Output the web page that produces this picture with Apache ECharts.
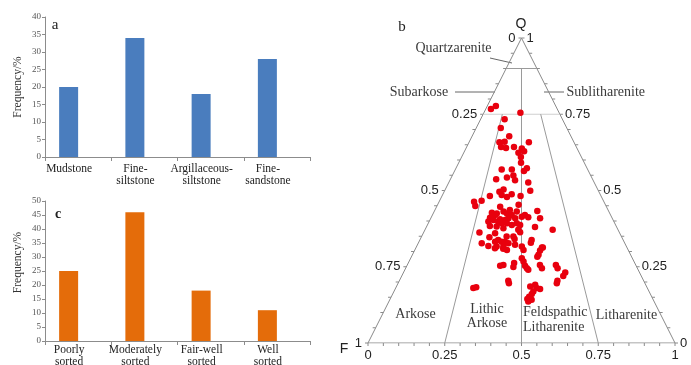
<!DOCTYPE html>
<html><head><meta charset="utf-8">
<script src="https://cdn.jsdelivr.net/npm/echarts@6/dist/echarts.min.js"></script>
<style>html,body{margin:0;padding:0;background:#fff}#c{width:691px;height:365px}</style>
</head><body><div id="c"></div>
<script>
// ---- data ----
const lithologyCats = ['Mudstone', 'Fine-\nsiltstone', 'Argillaceous-\nsiltstone', 'Fine-\nsandstone'];
const lithologyFreq = [20, 34, 18, 28];
const sortingCats = ['Poorly\nsorted', 'Moderately\nsorted', 'Fair-well\nsorted', 'Well\nsorted'];
const sortingFreq = [25, 46, 18, 11];
const ternLabelTicks = [0, 0.25, 0.5, 0.75, 1];
// sample compositions (%): Q = quartz, L = lithic fragments (F = 100 - Q - L)
const quartzPct = [76.7,77.7,75.5,73.4,70.5,67.8,65.8,66.0,64.3,63.9,64.3,65.8,63.8,62.4,62.9,61.0,59.1,57.3,56.4,56.9,56.9,54.9,54.3,53.4,53.7,52.6,49.6,50.3,48.5,48.8,47.9,48.2,49.9,48.2,46.3,44.9,46.6,
 42.7,42.0,42.5,44.7,43.1,42.5,43.6,42.0,43.1,45.3,40.9,41.4,42.0,41.2,40.3,39.8,39.3,40.3,40.9,38.4,38.2,37.6,38.7,39.3,38.7,36.0,40.6,39.3,43.3,40.9,38.0,37.1,36.2,34.7,32.7,31.8,33.2,33.8,33.2,33.2,32.7,31.6,31.6,30.5,32.2,31.6,30.5,33.8,32.9,31.3,30.3,28.9,28.3,27.8,26.7,25.3,25.6,26.2,24.9,25.3,24.5,24.0,25.6,24.5,25.6,24.5,23.1,22.0,20.4,19.6,20.4,19.6,18.0,18.3,18.5,19.1,18.0,17.7,16.9,16.1,15.2,14.4,14.2,13.6,37.1,34.9,34.1,31.3,
 39.8,41.1,30.9,31.1,34.9,36.3];
const lithicPct = [1.7,2.8,11.9,7.8,8.0,12.1,9.9,11.5,11.2,13.0,15.4,19.5,18.2,17.8,19.4,19.3,20.3,23.1,22.6,15.1,18.4,19.9,18.1,21.2,14.9,25.9,18.0,19.0,19.3,22.4,21.3,15.6,27.9,25.6,11.4,12.5,13.7,
 19.0,20.4,20.7,20.7,22.6,24.0,24.4,25.8,26.9,26.4,27.5,29.4,30.1,31.6,20.7,22.5,23.9,24.5,25.3,20.5,22.8,25.3,27.5,28.8,30.2,23.4,22.7,25.6,33.5,35.6,35.4,41.6,18.2,22.2,20.7,23.3,24.8,25.5,26.9,28.0,29.4,26.1,28.3,30.0,31.8,34.3,35.4,36.4,36.6,41.0,40.9,41.1,41.0,36.2,37.3,30.4,31.3,34.5,34.9,38.5,39.5,40.2,43.2,44.4,48.4,49.5,52.7,52.6,51.5,51.7,35.5,36.1,25.3,26.1,43.6,44.9,45.9,47.2,45.4,45.3,44.9,44.7,46.2,45.4,30.4,29.9,30.7,41.3,
 19.3,19.2,28.6,25.8,27.7,31.4];

// ---- helpers ----
const SERIF = '"Liberation Serif","Times New Roman",serif';
const SANS = '"Liberation Sans",Arial,sans-serif';
// ternary (Q, L fractions) -> plane coords: F at (0,0), L at (1,0), Q at (0.5,1)
function tern(q, l) { return [l + q / 2, q]; }
function ratioPt(q, r) { return tern(q, (1 - q) * r); }

const frameLines = [
  {pts: [tern(0,0), tern(0,1), tern(1,0), tern(0,0)], color: '#8a8a8a'},
  {pts: [tern(0.9,0), tern(0.9,0.1)], color: '#9a9a9a'},
  {pts: [tern(0.75,0), tern(0.75,0.25)], color: '#cfcfcf'},
  {pts: [ratioPt(0.9,0.5), ratioPt(0,0.5)], color: '#9a9a9a'},
  {pts: [ratioPt(0.75,0.25), ratioPt(0,0.25)], color: '#9a9a9a'},
  {pts: [ratioPt(0.75,0.75), ratioPt(0,0.75)], color: '#9a9a9a'}
];

const tickData = [];
for (let e = 0; e < 3; e++) for (let k = 0; k <= 20; k++) tickData.push([e, k / 20]);

function fmt(t) { return String(+t.toFixed(2)); }

const chart = echarts.init(document.getElementById('c'), null, {renderer: 'canvas'});

const barAxisLine = {show: true, lineStyle: {color: '#8c8c8c', width: 1}};

const series = [
  {type: 'bar', xAxisIndex: 0, yAxisIndex: 0, data: lithologyFreq, barWidth: 19, barGap: '0%',
   itemStyle: {color: '#4a7dbe'}, animation: false},
  {type: 'bar', xAxisIndex: 0, yAxisIndex: 0, data: lithologyFreq.map(() => null), barWidth: 19, barGap: '0%', animation: false},
  {type: 'bar', xAxisIndex: 1, yAxisIndex: 1, data: sortingFreq, barWidth: 19, barGap: '0%',
   itemStyle: {color: '#e46c0a'}, animation: false},
  {type: 'bar', xAxisIndex: 1, yAxisIndex: 1, data: sortingFreq.map(() => null), barWidth: 19, barGap: '0%', animation: false}
];

frameLines.forEach(f => series.push({
  type: 'line', xAxisIndex: 2, yAxisIndex: 2, data: f.pts, symbol: 'none', silent: true, animation: false,
  lineStyle: {color: f.color, width: 1}, z: 1
}));

series.push({
  type: 'custom', xAxisIndex: 2, yAxisIndex: 2, data: tickData, silent: true, animation: false, z: 2,
  renderItem: function (params, api) {
    const e = api.value(0), t = api.value(1);
    let p, dx, dy, lx, ly, align, valign;
    if (e === 0) { p = api.coord(tern(1 - t, 0)); dx = -3; dy = 0; lx = -6; ly = 0; align = 'right'; valign = 'middle'; }
    else if (e === 1) { p = api.coord(tern(t, 1 - t)); dx = 3; dy = 0; lx = 5; ly = 0; align = 'left'; valign = 'middle'; }
    else { p = api.coord(tern(0, t)); dx = 0; dy = 3; lx = 0; ly = 6; align = 'center'; valign = 'top'; }
    const children = [{type: 'line', shape: {x1: p[0], y1: p[1], x2: p[0] + dx, y2: p[1] + dy},
      style: {stroke: '#8a8a8a', lineWidth: 1}}];
    const isLab = ternLabelTicks.some(v => Math.abs(v - t) < 1e-6);
    if (isLab) children.push({type: 'text', x: p[0] + lx, y: p[1] + ly,
      style: {text: fmt(t), fill: '#222', font: '13px ' + SANS, align: align, verticalAlign: valign}});
    return {type: 'group', children: children};
  }
});

series.push({
  type: 'scatter', xAxisIndex: 2, yAxisIndex: 2, symbolSize: 6.5, z: 5, animation: false,
  itemStyle: {color: '#e8000e', opacity: 1},
  data: quartzPct.map((q, i) => tern(q / 100, lithicPct[i] / 100))
});

function serifText(text, x, y, opts) {
  return Object.assign({type: 'text', x: x, y: y, silent: true,
    style: Object.assign({text: text, fill: '#3a3a3a', font: '14px ' + SERIF, align: 'center', verticalAlign: 'middle'}, opts || {})});
}

const option = {
  backgroundColor: '#fff',
  animation: false,
  grid: [
    {left: 45, top: 17, width: 265, height: 140, outerBoundsMode: 'none'},
    {left: 45, top: 201, width: 265, height: 140, outerBoundsMode: 'none'},
    {left: 368, top: 38, width: 307, height: 305, outerBoundsMode: 'none'}
  ],
  xAxis: [
    {type: 'category', gridIndex: 0, data: lithologyCats, axisLine: barAxisLine,
     axisTick: {show: true, length: 4, lineStyle: {color: '#8c8c8c'}},
     axisLabel: {interval: 0, fontFamily: SERIF, fontSize: 11.5, color: '#222', lineHeight: 12, margin: 6, padding: [0, 18, 0, 0]}},
    {type: 'category', gridIndex: 1, data: sortingCats, axisLine: barAxisLine,
     axisTick: {show: true, length: 4, lineStyle: {color: '#8c8c8c'}},
     axisLabel: {interval: 0, fontFamily: SERIF, fontSize: 11.5, color: '#222', lineHeight: 12, margin: 3, padding: [0, 18, 0, 0]}},
    {type: 'value', gridIndex: 2, min: 0, max: 1, show: false}
  ],
  yAxis: [
    {type: 'value', gridIndex: 0, min: 0, max: 40, interval: 5, axisLine: barAxisLine,
     axisTick: {show: true, length: 3, lineStyle: {color: '#8c8c8c'}}, splitLine: {show: false},
     axisLabel: {fontFamily: SERIF, fontSize: 9, color: '#555', margin: 4},
     name: 'Frequency/%', nameLocation: 'middle', nameGap: 21,
     nameTextStyle: {fontFamily: SERIF, fontSize: 11.5, color: '#333'}},
    {type: 'value', gridIndex: 1, min: 0, max: 50, interval: 5, axisLine: barAxisLine,
     axisTick: {show: true, length: 3, lineStyle: {color: '#8c8c8c'}}, splitLine: {show: false},
     axisLabel: {fontFamily: SERIF, fontSize: 9, color: '#555', margin: 4},
     name: 'Frequency/%', nameLocation: 'middle', nameGap: 21,
     nameTextStyle: {fontFamily: SERIF, fontSize: 11.5, color: '#333', padding: [0, 0, 0, 17]}},
    {type: 'value', gridIndex: 2, min: 0, max: 1, show: false}
  ],
  series: series,
  graphic: [
    serifText('a', 55, 25, {fill: '#222', font: '15px ' + SERIF}),
    serifText('c', 58, 214, {fill: '#222', font: 'bold 14px ' + SERIF}),
    serifText('b', 402, 27, {fill: '#222', font: '15px ' + SERIF}),
    {type: 'text', x: 521, y: 24, silent: true, style: {text: 'Q', fill: '#222', font: '14px ' + SANS, align: 'center', verticalAlign: 'middle'}},
    {type: 'text', x: 344, y: 349, silent: true, style: {text: 'F', fill: '#222', font: '14px ' + SANS, align: 'center', verticalAlign: 'middle'}},
    serifText('Quartzarenite', 453.5, 48),
    serifText('Subarkose', 419, 92),
    serifText('Sublitharenite', 566.5, 92, {align: 'left'}),
    serifText('Arkose', 415.5, 314),
    serifText('Lithic\nArkose', 487, 316, {lineHeight: 14}),
    serifText('Feldspathic\nLitharenite', 523, 319.5, {align: 'left', lineHeight: 15}),
    serifText('Litharenite', 626.5, 315),
    {type: 'line', silent: true, shape: {x1: 490, y1: 58, x2: 512, y2: 63}, style: {stroke: '#666', lineWidth: 1}},
    {type: 'line', silent: true, shape: {x1: 455, y1: 92, x2: 495, y2: 92}, style: {stroke: '#666', lineWidth: 1}},
    {type: 'line', silent: true, shape: {x1: 544, y1: 92, x2: 564, y2: 92}, style: {stroke: '#666', lineWidth: 1}}
  ]
};
chart.setOption(option);
</script>
</body></html>
